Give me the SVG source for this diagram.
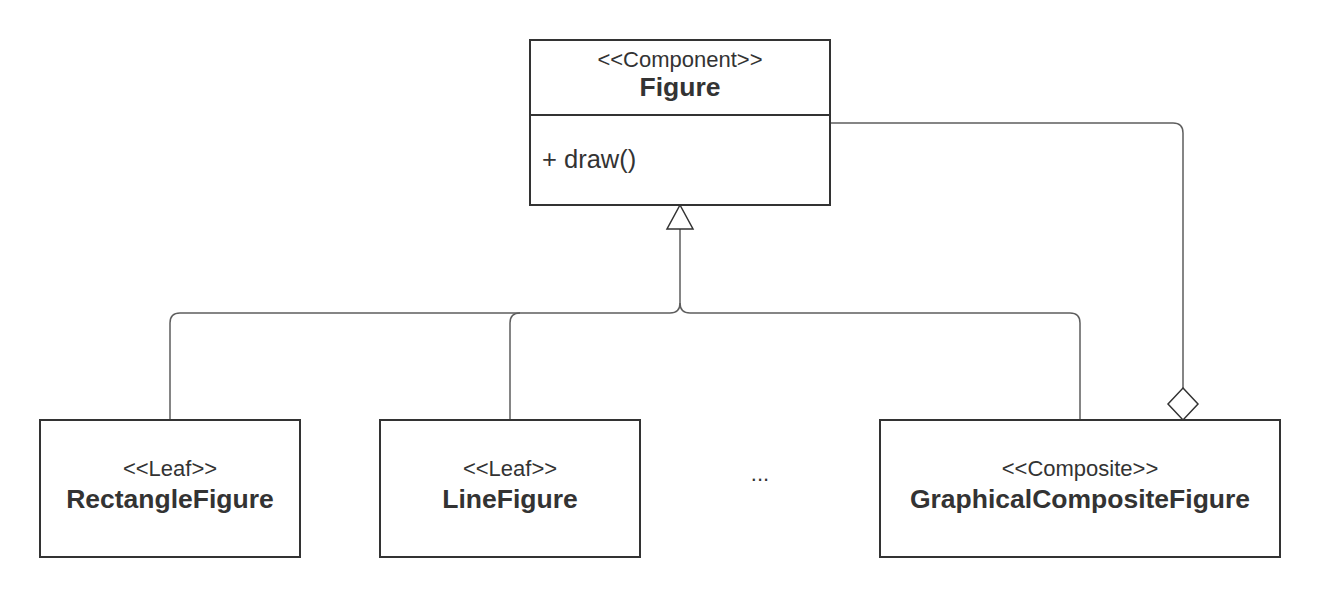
<svg xmlns="http://www.w3.org/2000/svg" width="1320" height="598" viewBox="0 0 1320 598">
<style>
.box{fill:#fff;stroke:#333;stroke-width:2}
.st{font-family:"Liberation Sans",Arial,sans-serif;font-size:22px;fill:#333;text-anchor:middle}
.nm{font-family:"Liberation Sans",Arial,sans-serif;font-size:26.5px;font-weight:bold;fill:#333;text-anchor:middle}
.op{font-family:"Liberation Sans",Arial,sans-serif;font-size:25.5px;fill:#333}
.ln{fill:none;stroke:#5e5e5e;stroke-width:1.5}
</style>
<rect width="1320" height="598" fill="#fff"/>
<g id="connectors">
<path class="ln" d="M680,229 V303 Q680,313 670,313 H180 Q170,313 170,323 V420"/>
<path class="ln" d="M680,303 Q680,313 690,313 H1070 Q1080,313 1080,323 V420"/>
<path class="ln" d="M510,420 V323 Q510,313 520,313"/>
<polygon points="680,205 693,229 667,229" fill="#fff" stroke="#333" stroke-width="1.5"/>
<path class="ln" d="M830,123 H1173 Q1183,123 1183,133 V388"/>
<polygon points="1183,388 1198,404 1183,420 1168,404" fill="#fff" stroke="#333" stroke-width="1.5"/>
</g>
<g id="figure">
<rect class="box" x="530" y="40" width="300" height="165"/>
<line x1="530" y1="115" x2="830" y2="115" stroke="#333" stroke-width="2"/>
<text class="st" x="680" y="67">&lt;&lt;Component&gt;&gt;</text>
<text class="nm" x="680" y="96">Figure</text>
<text class="op" x="542" y="168">+ draw()</text>
</g>
<g id="rectangleFigure">
<rect class="box" x="40" y="420" width="260" height="137"/>
<text class="st" x="170" y="476">&lt;&lt;Leaf&gt;&gt;</text>
<text class="nm" x="170" y="508">RectangleFigure</text>
</g>
<g id="lineFigure">
<rect class="box" x="380" y="420" width="260" height="137"/>
<text class="st" x="510" y="476">&lt;&lt;Leaf&gt;&gt;</text>
<text class="nm" x="510" y="508">LineFigure</text>
</g>
<g id="ellipsis">
<text class="st" x="760" y="481">...</text>
</g>
<g id="graphicalCompositeFigure">
<rect class="box" x="880" y="420" width="400" height="137"/>
<text class="st" x="1080" y="476">&lt;&lt;Composite&gt;&gt;</text>
<text class="nm" x="1080" y="508">GraphicalCompositeFigure</text>
</g>
</svg>
